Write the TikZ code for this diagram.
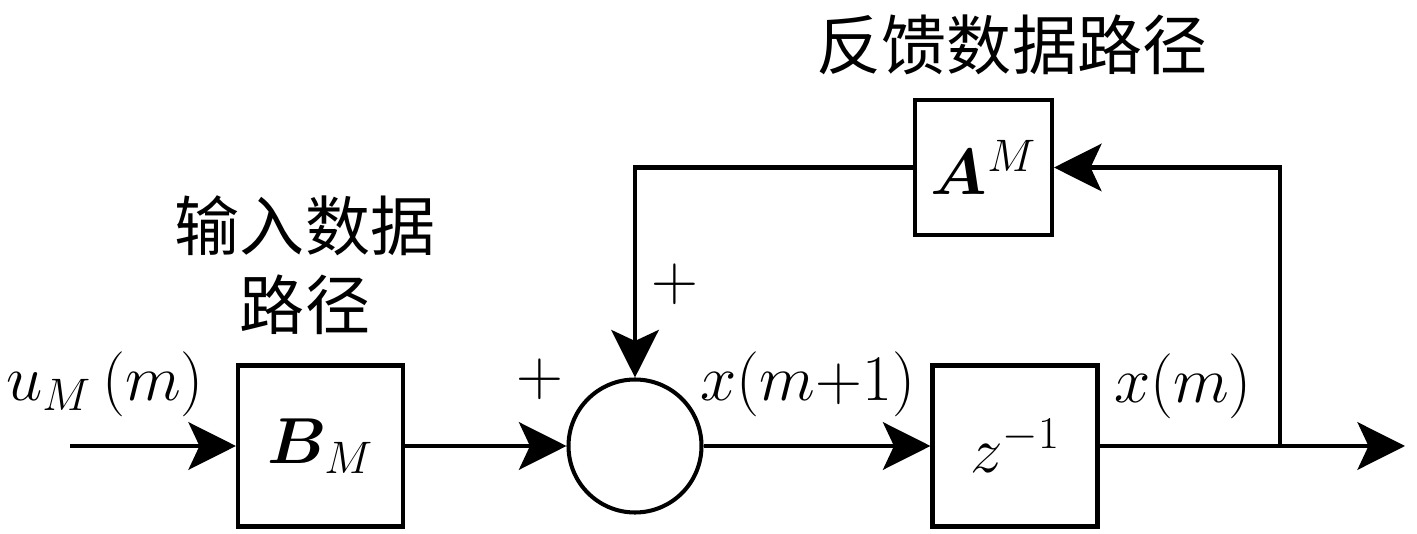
\RequirePackage{fix-cm}
\documentclass[tikz,border=0pt]{standalone}
\usepackage{amsmath,amssymb,bm}
\usepackage{fontspec}
\newfontfamily\cjk{Noto Sans CJK SC}
\usepackage{tikz}
\usetikzlibrary{arrows.meta}

\begin{document}
\begin{tikzpicture}[line width=2.3pt,
  blockbox/.style={draw, minimum width=3.3cm, minimum height=3.22cm, inner sep=0pt},
  sumnode/.style={draw, circle, minimum size=2.66cm, inner sep=0pt},
  sig/.style={-{Stealth[length=0.95cm, width=0.95cm, inset=0.22cm]}},
  font=\fontsize{37}{45}\selectfont]
\useasboundingbox (0,0) rectangle (28.34,10.68);
\node[blockbox] (B) at (6.41,1.76) {$\bm{B}_M$};
\node[sumnode] (S) at (12.7,1.76) {};
\node[blockbox] (Z) at (20.3,1.76) {$z^{-1}$};
\node[blockbox, minimum width=2.74cm, minimum height=2.7cm] (A) at (19.67,7.33) {$\bm{A}^M$};
\coordinate (in) at (1.4,1.76);
\coordinate (out) at (28.1,1.76);
\coordinate (J) at (25.6,1.76);
\draw[sig] (in) -- (B);
\draw[sig] (B) -- (S);
\draw[sig] (S) -- (Z);
\draw[sig] (Z) -- (out);
\draw[sig] (J) |- (A);
\draw[sig] (A) -| (S);
\node (uin) at (2.1,3.0) {$u_M\,(m)$};
\node (xn) at (16.16,3.0) {$x(m{+}1)$};
\node (xo) at (23.66,2.95) {$x(m)$};
\node (pl) at (10.8,3.1) {$+$};
\node (pt) at (13.5,5.0) {$+$};
\node (fb) at (20.24,9.78) {\cjk 反馈数据路径};
\node[align=center] (ip) at (6.1,5.38) {\cjk 输入数据\\\cjk 路径};
\end{tikzpicture}
\end{document}
